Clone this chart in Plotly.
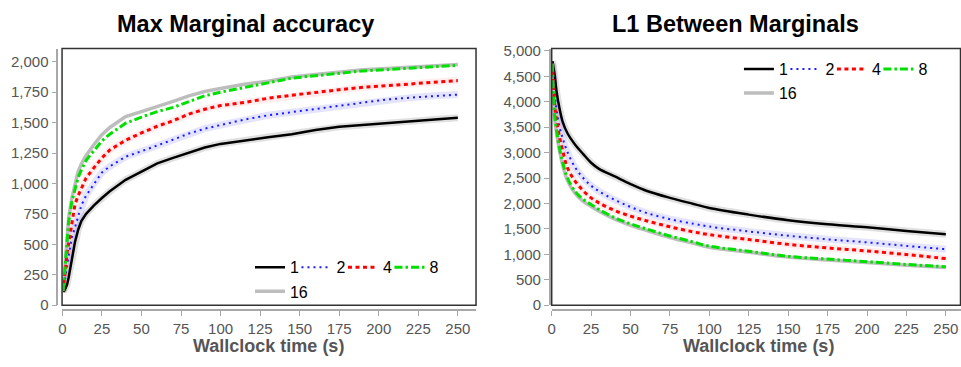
import plotly.graph_objects as go

W, H = 961, 367

# ---------------- data ----------------
series_names = ["1", "2", "4", "8", "16"]

# Left: Max Marginal accuracy
acc_x = [0.5, 1, 2, 3, 4, 6, 8, 10, 12, 15, 20, 25, 30, 40, 50, 60, 70, 80, 90, 100,
         115, 130, 145, 160, 175, 190, 205, 220, 235, 250]
acc_1 = [110, 115, 140, 170, 230, 380, 520, 620, 690, 750, 820, 880, 935, 1030, 1100, 1165,
         1210, 1255, 1295, 1325, 1355, 1380, 1405, 1440, 1465, 1480, 1500, 1510, 1525, 1540]
acc_2 = [115, 170, 240, 330, 410, 560, 640, 740, 820, 900, 1000, 1090, 1140, 1220, 1265, 1310,
         1360, 1410, 1450, 1480, 1525, 1560, 1585, 1610, 1640, 1665, 1690, 1705, 1720, 1730]
acc_4 = [115, 190, 330, 430, 510, 690, 830, 900, 960, 1045, 1130, 1210, 1275, 1355, 1415, 1470,
         1515, 1570, 1610, 1640, 1665, 1700, 1725, 1750, 1770, 1790, 1805, 1815, 1830, 1845]
acc_8 = [115, 200, 400, 560, 690, 850, 960, 1050, 1110, 1190, 1270, 1350, 1405, 1495, 1545, 1590,
         1625, 1675, 1720, 1750, 1790, 1830, 1865, 1885, 1905, 1925, 1935, 1950, 1960, 1970]
acc_16 = [115, 210, 420, 590, 720, 880, 1000, 1100, 1160, 1230, 1320, 1400, 1460, 1550, 1590, 1630,
          1675, 1720, 1755, 1780, 1815, 1840, 1875, 1895, 1915, 1935, 1945, 1955, 1965, 1978]

# Right: L1 Between Marginals
l1_x = [0.5, 1, 2, 3, 5, 7, 10, 15, 20, 25, 30, 40, 50, 60, 75, 90, 100, 125, 150, 175, 200, 225, 250]
l1_1 = [4800, 4700, 4500, 4220, 3860, 3600, 3380, 3150, 2970, 2800, 2680, 2530, 2380, 2250, 2110,
        1990, 1910, 1780, 1670, 1590, 1530, 1460, 1395]
l1_2 = [4750, 4550, 4150, 3850, 3500, 3280, 3010, 2700, 2500, 2350, 2240, 2070, 1930, 1815, 1690,
        1600, 1545, 1450, 1365, 1295, 1235, 1165, 1100]
l1_4 = [4750, 4400, 3900, 3650, 3300, 3030, 2700, 2430, 2250, 2110, 2010, 1860, 1750, 1660, 1540,
        1440, 1385, 1290, 1195, 1125, 1065, 995, 915]
l1_8 = [4750, 4200, 3700, 3450, 3080, 2800, 2500, 2230, 2080, 1980, 1880, 1720, 1600, 1500, 1360,
        1240, 1160, 1060, 960, 905, 855, 800, 755]
l1_16 = [4700, 4150, 3650, 3400, 3030, 2750, 2450, 2190, 2040, 1940, 1845, 1690, 1570, 1470, 1330,
         1215, 1140, 1040, 945, 890, 840, 785, 740]

x_ticks = [0, 25, 50, 75, 100, 125, 150, 175, 200, 225, 250]
acc_ticks = [0, 250, 500, 750, 1000, 1250, 1500, 1750, 2000]
l1_ticks = [0, 500, 1000, 1500, 2000, 2500, 3000, 3500, 4000, 4500, 5000]

# ---------------- styles ----------------
styles = {
    "1": dict(color="#000000", width=2.5, dash="solid"),
    "2": dict(color="#1a1aff", width=2, dash="2px,4px"),
    "4": dict(color="#ff0000", width=3, dash="4px,3.5px"),
    "8": dict(color="#00e000", width=3, dash="8px,3px,2.5px,3px"),
    "16": dict(color="#bdbdbd", width=3.5, dash="solid"),
}
halo = {"1": "rgba(0,0,0,0.12)", "2": "rgba(90,90,255,0.16)", "4": "rgba(255,80,80,0.10)"}


def fx(p):
    return p / W


def fy(p):
    return 1 - p / H


fig = go.Figure()

panels = [
    dict(x=acc_x, ys=[acc_1, acc_2, acc_4, acc_8, acc_16], xa="x", ya="y",
         legs=("legend", "legend2"), shape="linear"),
    dict(x=l1_x, ys=[l1_1, l1_2, l1_4, l1_8, l1_16], xa="x2", ya="y2",
         legs=("legend3", "legend4"), shape="spline"),
]

draw_order = [4, 0, 1, 2, 3]  # grey underneath the others
for p in panels:
    for i in draw_order:
        name = series_names[i]
        if name in halo:
            fig.add_trace(go.Scatter(x=p["x"], y=p["ys"][i], mode="lines", xaxis=p["xa"], yaxis=p["ya"],
                                     line=dict(color=halo[name], width=7, shape=p["shape"]),
                                     showlegend=False, hoverinfo="skip"))
    for i in draw_order:
        name = series_names[i]
        st = styles[name]
        fig.add_trace(go.Scatter(
            x=p["x"], y=p["ys"][i], mode="lines", name=name, xaxis=p["xa"], yaxis=p["ya"],
            line=dict(color=st["color"], width=st["width"], dash=st["dash"], shape=p["shape"]),
            legend=p["legs"][1] if name == "16" else p["legs"][0],
            legendrank=i,
            legendwidth=12 if name == "8" else None,
        ))

tickfont = dict(family="Liberation Sans, Arial, sans-serif", size=15, color="#555555")
axis_common = dict(showgrid=False, zeroline=False, showline=True, linecolor="#a8a8a8", linewidth=1.5,
                   ticks="outside", ticklen=5, tickwidth=1, tickcolor="#a8a8a8", tickfont=tickfont,
                   anchor="free")

left_y_dom = [fy(311), fy(44.3)]

fig.update_layout(
    width=W, height=H, autosize=False,
    margin=dict(l=0, r=0, t=0, b=0),
    paper_bgcolor="white", plot_bgcolor="white",
    font=dict(family="Liberation Sans, Arial, sans-serif"),
    xaxis=dict(domain=[fx(58.3), fx(474)], range=[-0.2, 261.5], tickvals=x_ticks,
               position=fy(316), **axis_common),
    yaxis=dict(domain=left_y_dom, range=[0, 2108], tickvals=acc_ticks, tickformat=",",
               position=fx(53.5), **axis_common),
    xaxis2=dict(domain=[fx(550), fx(960.5)], range=[0, 259.3], tickvals=x_ticks,
                position=fy(316), **axis_common),
    yaxis2=dict(domain=left_y_dom, range=[0, 5045], tickvals=l1_ticks, tickformat=",",
                position=fx(548), **axis_common),
    showlegend=True,
)

legfont = dict(family="Liberation Sans, Arial, sans-serif", size=16, color="#000000")
leg_common = dict(orientation="h", bgcolor="rgba(0,0,0,0)", borderwidth=0, font=legfont,
                  xanchor="left", yanchor="top", traceorder="normal")
fig.update_layout(
    legend=dict(x=fx(247), y=fy(254), entrywidth=1.5, **leg_common),
    legend2=dict(x=fx(247), y=fy(279), **leg_common),
    legend3=dict(x=fx(738), y=fy(48), entrywidth=1.5, **leg_common),
    legend4=dict(x=fx(738), y=fy(73), **leg_common),
)

# plot frames
for xr, yr in [("x domain", "y domain"), ("x2 domain", "y2 domain")]:
    fig.add_shape(type="rect", xref=xr, yref=yr, x0=0, x1=1, y0=0, y1=1,
                  line=dict(color="#333333", width=1.5), fillcolor="rgba(0,0,0,0)", layer="above")

# titles
title_font = dict(family="Liberation Sans, Arial, sans-serif", size=23.5, color="#000000")
axis_title_font = dict(family="Liberation Sans, Arial, sans-serif", size=18, color="#555555")
annos = [
    dict(text="<b>Max Marginal accuracy</b>", x=fx(243), y=fy(19), font=title_font),
    dict(text="<b>L1 Between Marginals</b>", x=fx(735), y=fy(19), font=title_font),
    dict(text="<b>Wallclock time (s)</b>", x=fx(266), y=fy(354), font=axis_title_font),
    dict(text="<b>Wallclock time (s)</b>", x=fx(757.5), y=fy(354), font=axis_title_font),
]
for a in annos:
    fig.add_annotation(xref="paper", yref="paper", showarrow=False, xanchor="center", yanchor="middle", **a)

fig.write_html(
    "out.html",
    config={"displayModeBar": False},
    post_script="document.body.style.margin='0px';document.body.style.overflow='hidden';",
)
